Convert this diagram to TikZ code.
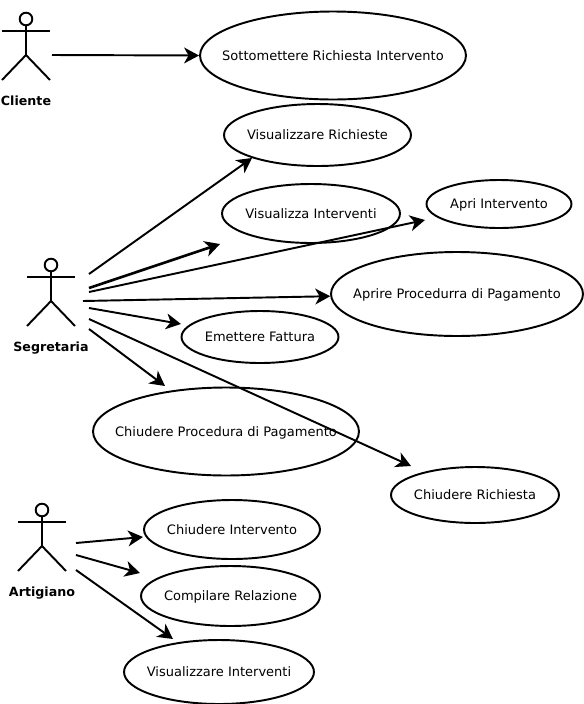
\documentclass[tikz,border=0pt]{standalone}
\usepackage{fontspec}
\usepackage{tikz}
\usetikzlibrary{shapes.geometric,arrows.meta}
\setmainfont{DejaVu Sans}

\tikzset{
  usecase/.style={draw=black,ellipse,inner sep=-1.5cm,line width=1.1pt,text height=5.4pt,text depth=0pt,font=\fontsize{7.4}{9}\selectfont},
  role/.style={inner sep=0pt,text height=5.3pt,text depth=0pt,font=\fontsize{7.2}{9}\selectfont\bfseries},
  link/.style={black,line width=1.1pt,-{Stealth[length=8.5pt,width=9pt,inset=2.5pt]}},
  actor/.pic={
    \draw [black,line width=1.1pt] (0,12) circle (6.3);
    \draw [black,line width=1.1pt] (0,5.7) -- (0,-24);
    \draw [black,line width=1.1pt] (-24,0) -- (24,0);
    \draw [black,line width=1.1pt,line join=round] (-24,-49) -- (0,-24) -- (24,-49);
  }
}

\begin{document}
\begin{tikzpicture}[x=0.02cm,y=0.02cm]
\useasboundingbox (0,0) rectangle (584,-704);
% actors
\pic at (26,-31) {actor};
\pic at (51,-277) {actor};
\pic at (42,-522) {actor};
\node [role] (cliente) at (26,-101) {Cliente};
\node [role] (segretaria) at (51,-347) {Segretaria};
\node [role] (artigiano) at (42,-592) {Artigiano};
% use cases
\node [usecase,minimum width=5.32cm,minimum height=1.76cm] (sottomettere) at (333,-55.5) {Sottomettere Richiesta Intervento};
\node [usecase,minimum width=3.74cm,minimum height=1.24cm] (richieste) at (317.5,-135) {Visualizzare Richieste};
\node [usecase,minimum width=3.56cm,minimum height=1.18cm] (interventi) at (311,-213.5) {Visualizza Interventi};
\node [usecase,minimum width=2.9cm,minimum height=0.96cm] (apri) at (499,-204) {Apri Intervento};
\node [usecase,minimum width=5.04cm,minimum height=1.68cm] (aprire) at (457,-294) {Aprire Procedurra di Pagamento};
\node [usecase,minimum width=3.14cm,minimum height=1.04cm] (fattura) at (260,-337) {Emettere Fattura};
\node [usecase,minimum width=5.32cm,minimum height=1.76cm] (procedura) at (226,-431.5) {Chiudere Procedura di Pagamento};
\node [usecase,minimum width=3.36cm,minimum height=1.12cm] (chiudirich) at (475,-495) {Chiudere Richiesta};
\node [usecase,minimum width=3.52cm,minimum height=1.18cm] (chiudint) at (232,-529.5) {Chiudere Intervento};
\node [usecase,minimum width=3.58cm,minimum height=1.2cm] (relazione) at (230.5,-596) {Compilare Relazione};
\node [usecase,minimum width=3.8cm,minimum height=1.28cm] (visint) at (219,-672) {Visualizzare Interventi};
% free ends
\coordinate (c0) at (52,-55);
\coordinate (s1) at (89,-274);
\coordinate (s2) at (89,-288);
\coordinate (s3) at (89,-292);
\coordinate (s4) at (83,-301);
\coordinate (s5) at (89,-308);
\coordinate (s6) at (89,-319);
\coordinate (s7) at (89,-329);
\coordinate (a1) at (76,-543);
\coordinate (a2) at (76,-555);
\coordinate (a3) at (76,-570);
\coordinate (e2) at (220,-244);
\coordinate (e3) at (425,-220);
\coordinate (e5) at (181,-324);
\coordinate (e6) at (411,-466);
\coordinate (e7) at (165,-386);
\coordinate (f1) at (143,-537);
\coordinate (f2) at (140,-573);
\coordinate (f3) at (173,-639);
\coordinate (r1) at (252,-158);
% connectors
\draw [link] (c0) -- (sottomettere.west);
\draw [link] (s1) -- (r1);
\draw [link,line width=1.5pt] (s2) -- (e2);
\draw [link] (s3) -- (e3);
\draw [link] (s4) -- (aprire.181);
\draw [link] (s5) -- (e5);
\draw [link] (s6) -- (e6);
\draw [link] (s7) -- (e7);
\draw [link] (a1) -- (f1);
\draw [link] (a2) -- (f2);
\draw [link] (a3) -- (f3);
\end{tikzpicture}
\end{document}
